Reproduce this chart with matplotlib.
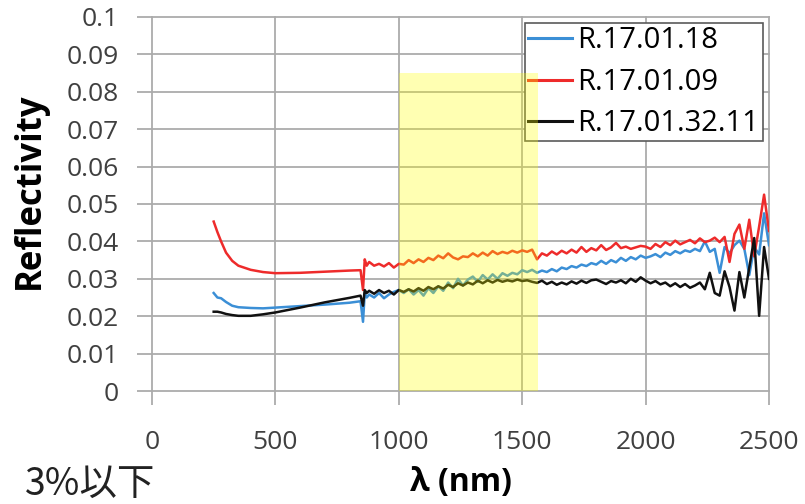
import numpy as np
import matplotlib.pyplot as plt
from matplotlib.patches import Rectangle

plt.rcParams['font.family'] = ['Open Sans', 'DejaVu Sans']

# wavelength grid (nm): coarse in the smooth UV/VIS part, 20 nm steps in the NIR
wavelength = [250, 265, 280, 300, 325, 350, 400, 450, 500, 600, 700, 800,
              845, 855, 862, 870] + list(range(880, 2501, 20))

r_18 = [0.0262, 0.0250, 0.0248, 0.0238, 0.0228, 0.0224, 0.0222, 0.0221,
        0.0223, 0.0227, 0.0231, 0.0236, 0.0240, 0.0185, 0.0262, 0.0250,
        0.0258, 0.0250, 0.0262, 0.0248, 0.0258, 0.0265, 0.0270, 0.0262, 0.0272, 0.0258,
        0.0270, 0.0255, 0.0275, 0.0262, 0.0280, 0.0268, 0.0290, 0.0275, 0.0300, 0.0282,
        0.0298, 0.0306, 0.0292, 0.0310, 0.0298, 0.0312, 0.0300, 0.0315, 0.0308, 0.0316,
        0.0312, 0.0323, 0.0318, 0.0324, 0.0316, 0.0322, 0.0318, 0.0326, 0.0320, 0.0330,
        0.0326, 0.0334, 0.0330, 0.0338, 0.0334, 0.0342, 0.0338, 0.0348, 0.0340, 0.0350,
        0.0344, 0.0356, 0.0348, 0.0358, 0.0352, 0.0362, 0.0356, 0.0360, 0.0366, 0.0358,
        0.0370, 0.0364, 0.0374, 0.0368, 0.0376, 0.0372, 0.0380, 0.0374, 0.0400, 0.0372,
        0.0380, 0.0316, 0.0385, 0.0368, 0.0390, 0.0402, 0.0380, 0.0310, 0.0385, 0.0365,
        0.0475, 0.0390]

r_09 = [0.0453, 0.0425, 0.0400, 0.0370, 0.0348, 0.0335, 0.0324, 0.0318,
        0.0315, 0.0316, 0.0319, 0.0322, 0.0323, 0.0270, 0.0352, 0.0335,
        0.0345, 0.0335, 0.0340, 0.0333, 0.0342, 0.0330, 0.0340, 0.0338, 0.0350, 0.0342,
        0.0352, 0.0345, 0.0356, 0.0350, 0.0362, 0.0355, 0.0368, 0.0357, 0.0352, 0.0360,
        0.0358, 0.0368, 0.0360, 0.0370, 0.0362, 0.0374, 0.0366, 0.0372, 0.0368, 0.0375,
        0.0370, 0.0376, 0.0372, 0.0378, 0.0352, 0.0368, 0.0362, 0.0373, 0.0365, 0.0375,
        0.0368, 0.0378, 0.0370, 0.0385, 0.0372, 0.0382, 0.0376, 0.0390, 0.0377, 0.0384,
        0.0396, 0.0382, 0.0386, 0.0380, 0.0384, 0.0388, 0.0386, 0.0380, 0.0393, 0.0385,
        0.0398, 0.0390, 0.0402, 0.0392, 0.0398, 0.0404, 0.0395, 0.0408, 0.0398, 0.0402,
        0.0410, 0.0398, 0.0412, 0.0345, 0.0420, 0.0445, 0.0380, 0.0458, 0.0360, 0.0440,
        0.0525, 0.0428]

r_32_11 = [0.0212, 0.0212, 0.0210, 0.0206, 0.0203, 0.0201, 0.0201, 0.0205,
           0.0210, 0.0223, 0.0237, 0.0249, 0.0255, 0.0228, 0.0270, 0.0262,
           0.0268, 0.0260, 0.0270, 0.0262, 0.0268, 0.0258, 0.0270, 0.0265, 0.0272, 0.0266,
           0.0275, 0.0268, 0.0278, 0.0272, 0.0280, 0.0274, 0.0284, 0.0278, 0.0288, 0.0282,
           0.0290, 0.0285, 0.0295, 0.0288, 0.0296, 0.0290, 0.0297, 0.0292, 0.0296, 0.0293,
           0.0298, 0.0294, 0.0296, 0.0292, 0.0289, 0.0295, 0.0286, 0.0292, 0.0284, 0.0290,
           0.0285, 0.0293, 0.0287, 0.0295, 0.0289, 0.0296, 0.0298, 0.0292, 0.0286, 0.0294,
           0.0290, 0.0296, 0.0288, 0.0300, 0.0292, 0.0304, 0.0295, 0.0288, 0.0294, 0.0285,
           0.0290, 0.0280, 0.0288, 0.0278, 0.0286, 0.0276, 0.0282, 0.0290, 0.0272, 0.0316,
           0.0262, 0.0255, 0.0320, 0.0278, 0.0215, 0.0318, 0.0250, 0.0330, 0.0409, 0.0201,
           0.0385, 0.0300]

labels = ['R.17.01.18', 'R.17.01.09', 'R.17.01.32.11']
colors = ['#3b8fd6', '#ee2b2b', '#111111']

# highlighted band
band_lo, band_hi, band_top = 1000, 1565, 0.085

grid_c = '#ababab'

fig = plt.figure(figsize=(8.05, 5.04), dpi=100)
ax = fig.add_axes([0.1888, 0.2242, 0.7665, 0.7421])

for y, lab, c in zip([r_18, r_09, r_32_11], labels, colors):
    ax.plot(wavelength, y, color=c, lw=1.8, label=lab, zorder=3)

ax.set_xlim(0, 2500)
ax.set_ylim(0, 0.1)
ax.set_xticks(np.arange(0, 2501, 500))
ax.set_yticks(np.arange(0, 0.1001, 0.01))
ax.set_yticklabels(['0', '0.01', '0.02', '0.03', '0.04', '0.05',
                    '0.06', '0.07', '0.08', '0.09', '0.1'])

for s in ax.spines.values():
    s.set_visible(False)
ax.grid(True, color=grid_c, lw=1.3)
ax.set_axisbelow(True)
for gl in ax.get_xgridlines() + ax.get_ygridlines():
    gl.set_clip_on(False)
ax.tick_params(axis='y', length=11, width=1.3, color=grid_c, pad=13,
               labelsize=19, labelcolor='#404040')
ax.tick_params(axis='x', length=10, width=1.3, color=grid_c, pad=18,
               labelsize=19, labelcolor='#404040')

ax.set_ylabel('Reflectivity', fontsize=25, fontweight='bold')
ax.yaxis.set_label_coords(-0.168, 0.535)
ax.set_xlabel('λ (nm)', fontsize=23, fontweight='bold', labelpad=8)

leg = ax.legend(loc='upper right', bbox_to_anchor=(0.99, 0.984), fontsize=21,
                frameon=True, fancybox=False, framealpha=1, edgecolor='#5a5a5a',
                handlelength=1.5, handletextpad=0.2, labelspacing=0.42,
                borderpad=0.12, borderaxespad=0)
leg.get_frame().set_linewidth(1.2)
for line in leg.get_lines():
    line.set_linewidth(2.2)

ax.add_patch(Rectangle((band_lo, 0), band_hi - band_lo, band_top,
                       facecolor='#ffff00', alpha=0.3, edgecolor='none', zorder=6))

fig.text(25 / 805, 9 / 504, '3%以下', fontsize=27, color='#222222',
         family=['Noto Sans CJK JP', 'DejaVu Sans'], va='baseline')

fig.savefig('out.png', dpi=100)
